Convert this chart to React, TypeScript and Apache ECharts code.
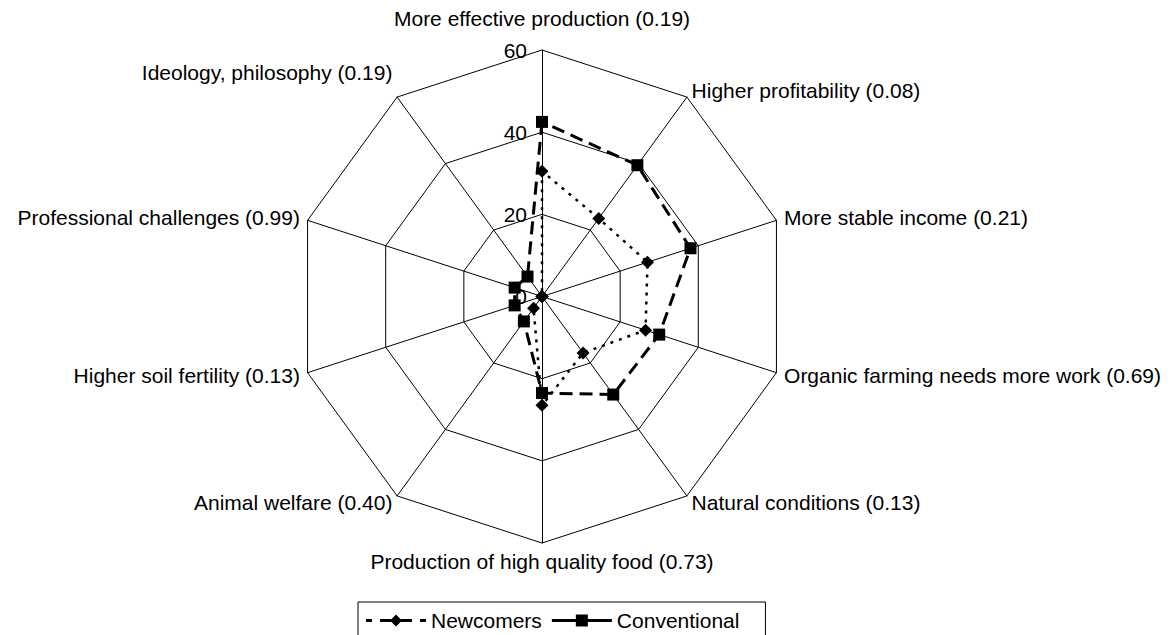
import React, { useEffect, useRef } from "react";
import * as echarts from "echarts";

// Categories listed clockwise from the top axis
const categories = [
  "More effective production (0.19)",
  "Higher profitability (0.08)",
  "More stable income (0.21)",
  "Organic farming needs more work (0.69)",
  "Natural conditions (0.13)",
  "Production of high quality food (0.73)",
  "Animal welfare (0.40)",
  "Higher soil fertility (0.13)",
  "Professional challenges (0.99)",
  "Ideology, philosophy (0.19)",
];
const seriesNames = ["Newcomers", "Conventional"];
const newcomers = [30.5, 23.5, 27, 26.5, 17, 26.5, 3.5, 0, 0, 0];
const conventional = [42.5, 39.5, 38, 30, 29.5, 23.5, 7.5, 7, 7, 6];
const axisMax = 60;
const axisSplits = 3;

const FONT = '"Liberation Sans", Arial, sans-serif';

// Legend icons: dotted line with diamond, dashed line with square (60 x 12 box)
const ICON_NEWCOMERS =
  "path://M0 4.5H6V7.5H0Z M14 4.5H25V7.5H14Z M30 0L36 6L30 12L24 6Z M35 4.5H46V7.5H35Z M54 4.5H60V7.5H54Z";
const ICON_CONVENTIONAL =
  "path://M0 4.5H60V7.5H0Z M24 0H36V12H24Z";

// ECharts radar runs counter-clockwise; reorder so the picture runs clockwise
function toCCW<T>(arr: T[]): T[] {
  return [arr[0], ...arr.slice(1).reverse()];
}

export default function App() {
  const ref = useRef<HTMLDivElement>(null);
  useEffect(() => {
    if (!ref.current) return;
    const chart = echarts.init(ref.current, null, { renderer: "svg" });
    const cats = toCCW(categories);
    const indicator = cats.map((name, i) => {
      const o: any = { name, min: 0, max: axisMax };
      if (i === 0) {
        o.axisLabel = {
          show: true,
          color: "#000",
          fontSize: 21,
          fontFamily: FONT,
          margin: 15,
        };
      }
      return o;
    });
    const topName = categories[0];
    const raisedName = categories[9];
    const baseRich = { fontSize: 21, color: "#000", fontFamily: FONT };
    chart.setOption({
      animation: false,
      backgroundColor: "#fff",
      textStyle: { fontFamily: FONT, color: "#000" },
      legend: {
        left: 358,
        top: 602,
        padding: [8, 26, 8, 8],
        borderColor: "#000",
        borderWidth: 1,
        itemWidth: 60,
        itemHeight: 12,
        itemGap: 10,
        textStyle: { fontSize: 21, color: "#000", fontFamily: FONT },
        data: [
          { name: seriesNames[0], icon: ICON_NEWCOMERS },
          { name: seriesNames[1], icon: ICON_CONVENTIONAL },
        ],
      },
      radar: {
        center: [542, 296.5],
        radius: 246.5,
        startAngle: 90,
        splitNumber: axisSplits,
        shape: "polygon",
        indicator,
        axisName: {
          color: "#000",
          fontSize: 21,
          fontFamily: FONT,
          formatter: (name: string) =>
            name === topName
              ? `{top|${name}}`
              : name === raisedName
              ? `{up|${name}}`
              : name,
          rich: {
            top: { ...baseRich, padding: [0, 0, 13, 0] },
            up: { ...baseRich, padding: [0, 0, 36, 0] },
          },
        },
        nameGap: 8,
        axisLine: { lineStyle: { color: "#000", width: 1 } },
        splitLine: { lineStyle: { color: "#000", width: 1 } },
        splitArea: { show: false },
        axisLabel: { show: false },
        axisTick: { show: false },
      },
      series: [
        {
          type: "radar",
          data: [
            {
              name: seriesNames[0],
              value: toCCW(newcomers),
              symbol: "diamond",
              symbolSize: 13,
              lineStyle: { color: "#000", width: 2.5, type: [3, 6] },
              itemStyle: { color: "#000" },
            },
            {
              name: seriesNames[1],
              value: toCCW(conventional),
              symbol: "rect",
              symbolSize: 12,
              lineStyle: { color: "#000", width: 3, type: [13, 7] },
              itemStyle: { color: "#000" },
            },
          ],
        },
      ],
    });
    return () => chart.dispose();
  }, []);
  return (
    <div
      ref={ref}
      style={{ position: "fixed", left: 0, top: 0, width: 1174, height: 635 }}
    />
  );
}
